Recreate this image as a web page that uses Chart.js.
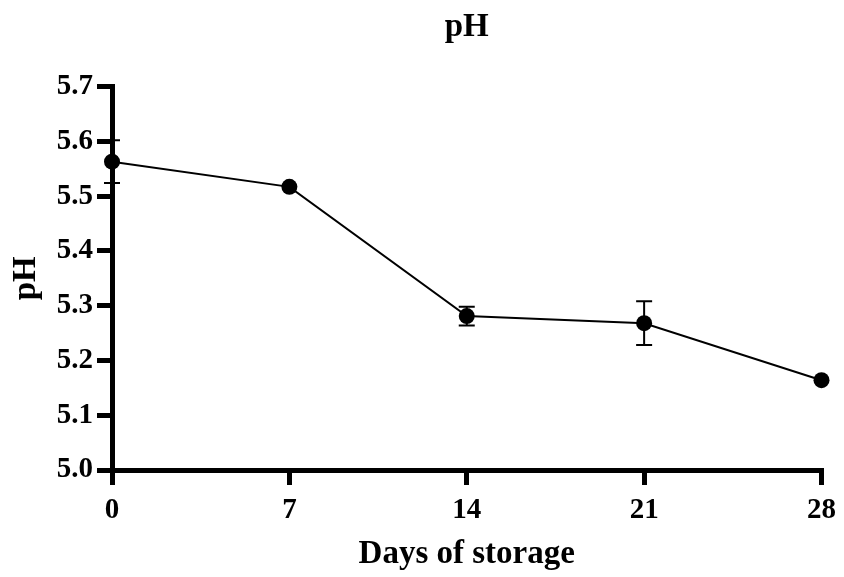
<!DOCTYPE html>
<html>
<head>
<meta charset="utf-8">
<script src="https://cdn.jsdelivr.net/npm/chart.js@4.4.1/dist/chart.umd.min.js"></script>
<style>
    html, body { margin: 0; padding: 0; background: #fff; }
    #wrap { width: 844px; height: 577px; }
</style>
</head>
<body>
<div id="wrap"><canvas id="phChart" width="844" height="577"></canvas></div>
<script>
// values
const days = [0, 7, 14, 21, 28];
const phMean = [5.563, 5.517, 5.281, 5.268, 5.164];
const phErr = [0.039, 0, 0.017, 0.040, 0];
const yTicks = [5.0, 5.1, 5.2, 5.3, 5.4, 5.5, 5.6, 5.7];

const serif = "'Liberation Serif', 'Times New Roman', serif";

// error bars drawn from the arrays through the chart scales
const errorBars = {
    id: 'errorBars',
    afterDatasetsDraw(chart) {
        const ctx = chart.ctx;
        const xs = chart.scales.x;
        const ys = chart.scales.y;
        ctx.save();
        ctx.strokeStyle = '#000';
        ctx.lineWidth = 2;
        days.forEach((d, i) => {
            if (!phErr[i]) return;
            const px = xs.getPixelForValue(d);
            const top = ys.getPixelForValue(phMean[i] + phErr[i]);
            const bot = ys.getPixelForValue(phMean[i] - phErr[i]);
            ctx.beginPath();
            ctx.moveTo(px, top); ctx.lineTo(px, bot);
            ctx.moveTo(px - 8, top); ctx.lineTo(px + 8, top);
            ctx.moveTo(px - 8, bot); ctx.lineTo(px + 8, bot);
            ctx.stroke();
        });
        ctx.restore();
    }
};

let ctx = document.getElementById('phChart').getContext('2d');
new Chart(ctx, {
    type: 'line',
    data: {
        datasets: [{
            label: 'pH',
            data: days.map((d, i) => ({ x: d, y: phMean[i] })),
            borderColor: '#000',
            backgroundColor: '#000',
            borderWidth: 2,
            pointRadius: 8,
            pointBackgroundColor: '#000',
            pointBorderWidth: 0,
            tension: 0,
            clip: false,
        }]
    },
    plugins: [errorBars],
    options: {
        responsive: false,
        animation: false,
        layout: { padding: { top: 8, right: 16, bottom: 0, left: 0 } },
        plugins: {
            legend: { display: false },
            tooltip: { enabled: false },
            title: {
                display: true,
                text: 'pH',
                fullSize: false,
                color: '#000',
                font: { family: serif, size: 33, weight: 'bold' },
                padding: { top: 0, bottom: 39 }
            }
        },
        scales: {
            x: {
                type: 'linear',
                min: 0,
                max: 28,
                afterFit: (scale) => { scale.height = 107 },
                ticks: {
                    stepSize: 7,
                    color: '#000',
                    padding: 8,
                    font: { family: serif, size: 29, weight: 'bold' }
                },
                grid: { drawOnChartArea: false, color: '#000', lineWidth: 5, tickLength: 15 },
                border: { color: '#000', width: 5 },
                title: {
                    display: true,
                    text: 'Days of storage',
                    color: '#000',
                    font: { family: serif, size: 33, weight: 'bold' },
                    padding: { top: 8, bottom: 3 }
                }
            },
            y: {
                min: 5.0,
                max: 5.7,
                afterFit: (scale) => { scale.width = 112 },
                afterBuildTicks: (scale) => { scale.ticks = yTicks.map(v => ({ value: v })) },
                ticks: {
                    color: '#000',
                    padding: 4,
                    font: { family: serif, size: 29, weight: 'bold' },
                    callback: (v) => Number(v).toFixed(1)
                },
                grid: { drawOnChartArea: false, color: '#000', lineWidth: 5, tickLength: 15 },
                border: { color: '#000', width: 5 },
                title: {
                    display: true,
                    text: 'pH',
                    color: '#000',
                    font: { family: serif, size: 33, weight: 'bold' },
                    padding: { top: 7, bottom: 8 }
                }
            }
        }
    }
});
</script>
</body>
</html>
